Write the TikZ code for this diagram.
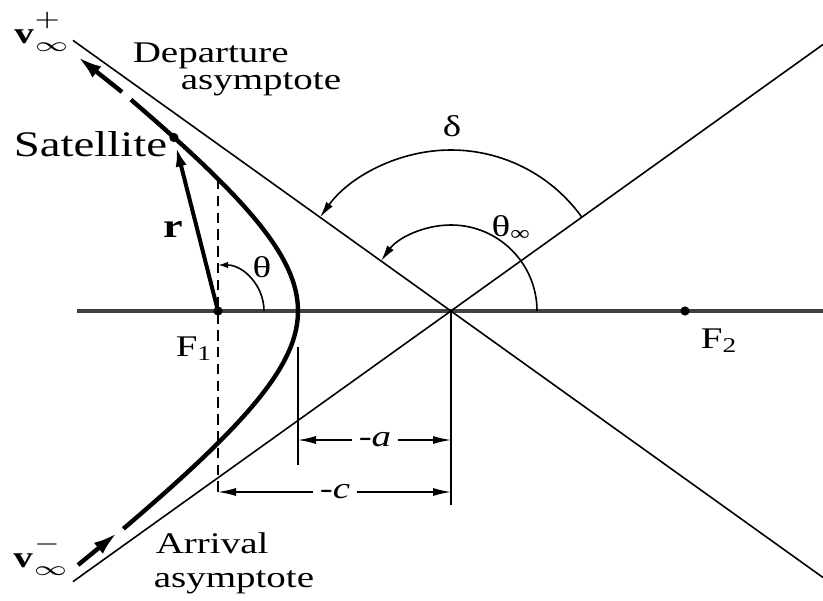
\documentclass[tikz,border=0pt]{standalone}
\usepackage{fontspec}
\setmainfont{Liberation Serif}
\usetikzlibrary{arrows.meta,calc}
\newcommand\hs[1]{\scalebox{1.3}[1]{#1}}
\begin{document}
\begin{tikzpicture}[x=0.25pt,y=0.25pt,
  lbl/.style={inner sep=0pt,font=\fontsize{7.5}{9}\selectfont},
  asym/.style={line width=0.4pt},
  axisline/.style={line width=0.8pt,draw=black!75},
  orbit/.style={line width=1.1pt},
  dimline/.style={line width=0.35pt},
  dimarrow/.style={line width=0.35pt,-{Latex[length=4.5pt,width=2pt]}},
  dashline/.style={line width=0.4pt,dash pattern=on 2.6pt off 1.6pt},
  arcline/.style={line width=0.4pt,-{Latex[length=4pt,width=2pt]}},
  bigarrow/.style={line width=1.1pt,-{Latex[length=6pt,width=3.5pt]}},
  rvec/.style={line width=1pt,-{Latex[length=5pt,width=2.8pt]}},
  dotnode/.style={circle,fill=black,inner sep=0pt,minimum size=2.3pt}]
\useasboundingbox (0,0) rectangle (823,600);
\fill[white] (0,0) rectangle (823,600);
% key points
\coordinate (O) at (451,289);
\coordinate (AxL) at (77,289);
\coordinate (AxR) at (823,289);
\coordinate (D1) at (73,559.6);
\coordinate (D2) at (823,22.5);
\coordinate (A1) at (73,18.4);
\coordinate (A2) at (823,555.5);
% axis and asymptotes
\draw[axisline] (AxL) -- (AxR);
\draw[asym] (D1) -- (D2);
\draw[asym] (A1) -- (A2);
% dimension verticals
\coordinate (vx1) at (298,253);
\coordinate (vx2) at (298,135);
\coordinate (Ob) at (451,95);
\draw[dimline] (vx1) -- (vx2);
\draw[dimline] (O) -- (Ob);
% dashed vertical through F1
\coordinate (dtop) at (218,421);
\coordinate (dbot) at (218,108);
\draw[dashline] (dtop) -- (dbot);
% hyperbola
\draw[orbit] plot[domain=-1.395:1.369,samples=90,variable=\t] ({451-153*cosh(\t)},{289+115*sinh(\t)});
% dots
\node[dotnode] (F1) at (218,289) {};
\node[dotnode] (F2) at (685,289) {};
\node[dotnode] (sat) at (173.9,462.5) {};
% velocity arrows
\coordinate (vp1) at (122,508);
\coordinate (vp2) at (78,543);
\draw[bigarrow] (vp1) -- (vp2);
\coordinate (vm1) at (78,35);
\coordinate (vm2) at (117,67);
\draw[bigarrow] (vm1) -- (vm2);
% radius vector
\draw[rvec,shorten >=1pt] (F1.center) -- (sat);
% angle arcs
\draw[line width=0.4pt,-{Latex[length=2.5pt,width=1.6pt]}] (F1.center) ++(0:11.5pt) arc[start angle=0,end angle=90,radius=11.5pt];
\draw[arcline] (O) ++(0:21.5pt) arc[start angle=0,end angle=144.4,radius=21.5pt];
\draw[arcline] (O) ++(35.6:40.25pt) arc[start angle=35.6,end angle=144.4,radius=40.25pt];
% dimensions
\node[lbl,inner sep=1.6pt] (la) at (375,160) {\hs{\textit{-a}}};
\coordinate (a1) at (298,160);
\coordinate (a2) at (451,160);
\draw[dimarrow] (la) -- (a1);
\draw[dimarrow] (la) -- (a2);
\node[lbl,inner sep=1.6pt] (lc) at (335,108) {\hs{\textit{-c}}};
\coordinate (c1) at (218,108);
\coordinate (c2) at (451,108);
\draw[dimarrow] (lc) -- (c1);
\draw[dimarrow] (lc) -- (c2);
% labels
\node[lbl,anchor=base west] (dep1) at (132,537) {\hs{Departure}};
\node[lbl,anchor=base west] (dep2) at (180,510) {\hs{asymptote}};
\node[lbl,anchor=base west] (arr1) at (155,47) {\hs{Arrival}};
\node[lbl,anchor=base west] (arr2) at (153,13) {\hs{asymptote}};
\node[lbl,font=\fontsize{9}{11}\selectfont,anchor=base west] (satl) at (13,443) {\hs{Satellite}};
\node[lbl,anchor=base west] (f1l) at (175,244) {\hs{F\textsubscript{1}}};
\node[lbl,anchor=base west] (f2l) at (700,252) {\hs{F\textsubscript{2}}};
\node[lbl,font=\fontsize{8.5}{10}\selectfont] (rl) at (173,371) {\hs{\textbf{r}}};
\node[lbl] (thl) at (262,333) {\hs{θ}};
\node[lbl] (dl) at (452,474) {\hs{δ}};
\node[lbl] (thinf) at (512,372) {\hs{θ\textsubscript{∞}}};
\node[lbl] (vpl) at (43,568) {\hs{$\mathbf{v}^{\raisebox{0.4ex}{$\scriptstyle +$}}_{\scriptscriptstyle\infty}$}};
\node[lbl] (vml) at (42,44) {\hs{$\mathbf{v}^{\raisebox{0.4ex}{$\scriptstyle -$}}_{\scriptscriptstyle\infty}$}};
\end{tikzpicture}
\end{document}
